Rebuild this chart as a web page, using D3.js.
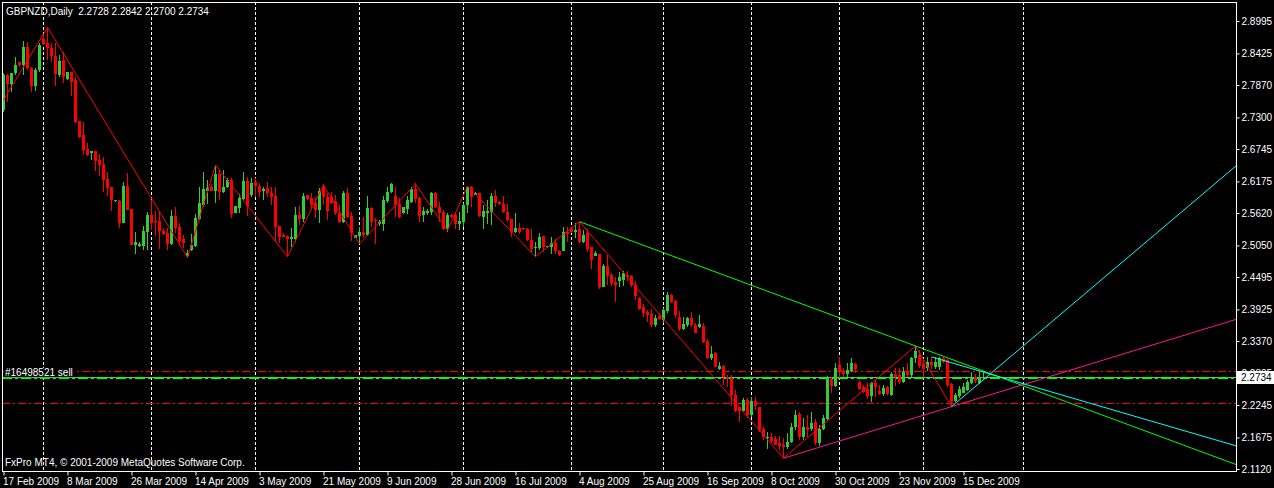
<!DOCTYPE html>
<html>
<head>
<meta charset="utf-8">
<script src="https://cdn.jsdelivr.net/npm/d3@7"></script>
<style>
  html, body { margin: 0; padding: 0; background: #000; }
  svg { display: block; }
  text { font-family: "Liberation Sans", Arial, sans-serif; font-size: 10px; fill: #fff; white-space: pre; }
</style>
</head>
<body>
<svg id="chart" width="1274" height="488"></svg>
<script>
// ---------------- DATA ----------------
const symbolTitle = "GBPNZD,Daily";
const lastOHLC = [2.2728, 2.2842, 2.2700, 2.2734];

const opens = [
2.7431,2.8046,2.7888,2.8076,2.8269,2.8222,2.8544,2.8175,2.7859,2.8134,
2.8679,2.8614,2.8527,2.8386,2.8046,2.8310,2.7976,2.8093,2.7958,2.7237,
2.6991,2.6745,2.6681,2.6710,2.6552,2.6476,2.6218,2.6077,2.5831,2.5831,
2.5450,2.6095,2.5690,2.5058,2.5040,2.5046,2.5292,2.5585,2.5485,2.5480,
2.5304,2.5263,2.5070,2.5567,2.5374,2.5163,2.4870,2.4970,2.5046,2.5515,
2.5761,2.6013,2.6083,2.6007,2.6300,2.5995,2.6083,2.6200,2.5626,2.5714,
2.5866,2.6183,2.5937,2.6159,2.6095,2.6013,2.6066,2.5978,2.5920,2.5392,
2.5234,2.5216,2.5158,2.5158,2.5586,2.5509,2.5937,2.5879,2.5791,2.5674,
2.6084,2.5908,2.5896,2.5838,2.5627,2.5468,2.5966,2.5568,2.5187,2.5216,
2.5293,2.5234,2.5703,2.5498,2.5427,2.5427,2.5838,2.5996,2.5920,2.5779,
2.5615,2.5685,2.5820,2.6037,2.5879,2.5580,2.5615,2.5644,2.5966,2.5720,
2.5638,2.5351,2.5580,2.5580,2.5427,2.5468,2.5761,2.6072,2.5937,2.5966,
2.5556,2.5627,2.5644,2.5920,2.5808,2.5779,2.5644,2.5509,2.5292,2.5351,
2.5351,2.5334,2.5146,2.4999,2.4999,2.5216,2.5017,2.5029,2.5099,2.4953,
2.4960,2.5292,2.5351,2.5292,2.5334,2.5117,2.5263,2.5017,2.4871,2.4900,
2.4326,2.4689,2.4531,2.4413,2.4431,2.4443,2.4531,2.4513,2.4355,2.4120,
2.3962,2.3886,2.3845,2.3652,2.3810,2.3740,2.3904,2.4179,2.4079,2.3798,
2.3581,2.3652,2.3781,2.3652,2.3622,2.3640,2.3376,2.3066,2.3154,2.2878,
2.2931,2.2743,2.2714,2.2421,2.2216,2.2146,2.2333,2.2070,2.2316,2.2204,
2.1818,2.1659,2.1677,2.1642,2.1572,2.1542,2.1501,2.1601,2.1853,2.2087,
2.1677,2.1853,2.1818,2.1941,2.1572,2.1818,2.1994,2.2697,2.2580,2.2949,
2.2849,2.2790,2.2849,2.2966,2.2656,2.2556,2.2521,2.2410,2.2626,2.2497,
2.2439,2.2568,2.2421,2.2790,2.2773,2.2656,2.2849,2.2773,2.3066,2.3124,
2.2966,2.2890,2.3007,2.2908,2.2908,2.3066,2.3037,2.2615,2.2322,2.2404,
2.2462,2.2509,2.2626,2.2732,2.2638,2.2728];

const highs = [
2.8076,2.8060,2.8080,2.8368,2.8281,2.8644,2.8632,2.8193,2.8163,2.8603,
2.8749,2.8885,2.8603,2.8603,2.8398,2.8456,2.8105,2.8105,2.8017,2.7240,
2.7214,2.6845,2.6712,2.6712,2.6652,2.6611,2.6347,2.6080,2.5850,2.5849,
2.6171,2.6318,2.5695,2.5280,2.5116,2.5397,2.5644,2.5849,2.5655,2.5644,
2.5351,2.5351,2.5673,2.5731,2.5439,2.5233,2.4970,2.5245,2.5603,2.6083,
2.6335,2.6200,2.6124,2.6464,2.6376,2.6376,2.6230,2.6230,2.5745,2.5948,
2.6347,2.6259,2.6230,2.6230,2.6142,2.6084,2.6160,2.6084,2.6072,2.5395,
2.5263,2.5234,2.5351,2.5720,2.5744,2.5978,2.5940,2.5966,2.5908,2.6054,
2.6125,2.5978,2.5996,2.5937,2.5761,2.6013,2.6054,2.5644,2.5236,2.5369,
2.5556,2.5920,2.5720,2.5539,2.5498,2.5920,2.6084,2.6154,2.6084,2.5879,
2.5732,2.5920,2.6084,2.6142,2.5908,2.5732,2.5685,2.5996,2.5996,2.5820,
2.5674,2.5627,2.5597,2.5644,2.5644,2.5791,2.6095,2.6095,2.5996,2.5978,
2.5761,2.5849,2.5966,2.6025,2.5838,2.5920,2.5779,2.5509,2.5627,2.5451,
2.5351,2.5351,2.5334,2.5117,2.5263,2.5216,2.5041,2.5205,2.5158,2.4970,
2.5369,2.5369,2.5380,2.5439,2.5468,2.5322,2.5334,2.5017,2.4953,2.4900,
2.4724,2.4882,2.4560,2.4501,2.4589,2.4601,2.4601,2.4531,2.4431,2.4138,
2.4021,2.3915,2.3933,2.3827,2.3857,2.3945,2.4238,2.4191,2.4091,2.3904,
2.3786,2.3798,2.3886,2.3693,2.3827,2.3681,2.3400,2.3283,2.3183,2.3007,
2.2948,2.2773,2.2773,2.2509,2.2216,2.2362,2.2362,2.2392,2.2392,2.2210,
2.1865,2.1777,2.1747,2.1701,2.1701,2.1659,2.1747,2.1923,2.2158,2.2128,
2.2011,2.2070,2.2128,2.1994,2.1894,2.2070,2.2755,2.2732,2.2978,2.3083,
2.2890,2.2978,2.3066,2.2978,2.2685,2.2597,2.2626,2.2656,2.2685,2.2597,
2.2597,2.2580,2.2831,2.2890,2.2890,2.2919,2.2978,2.3083,2.3283,2.3212,
2.3048,2.3083,2.3095,2.3095,2.3095,2.3083,2.3048,2.2626,2.2451,2.2580,
2.2626,2.2685,2.2831,2.2790,2.2831,2.2842];

const lows = [
2.7402,2.7577,2.7753,2.8046,2.8193,2.8046,2.8134,2.7753,2.7765,2.8093,
2.8574,2.8310,2.8281,2.7859,2.8005,2.7911,2.7958,2.7677,2.7200,2.6933,
2.6640,2.6630,2.6552,2.6359,2.6277,2.5995,2.5925,2.5655,2.5808,2.5351,
2.5440,2.5670,2.5050,2.4899,2.5028,2.4970,2.4970,2.5321,2.5222,2.4981,
2.5233,2.4964,2.5058,2.5263,2.5058,2.4999,2.4823,2.4952,2.5028,2.5497,
2.5732,2.5778,2.6007,2.5790,2.5849,2.5966,2.6054,2.5526,2.5624,2.5626,
2.5849,2.5567,2.5907,2.5907,2.5907,2.5849,2.5896,2.5761,2.5117,2.5088,
2.5190,2.4853,2.5029,2.5117,2.5410,2.5468,2.5849,2.5685,2.5527,2.5451,
2.5761,2.5498,2.5779,2.5586,2.5451,2.5451,2.5527,2.5134,2.5176,2.5076,
2.5193,2.5216,2.5380,2.5076,2.5392,2.5310,2.5791,2.5978,2.5556,2.5539,
2.5603,2.5603,2.5802,2.5791,2.5468,2.5468,2.5586,2.5586,2.5703,2.5468,
2.5322,2.5293,2.5539,2.5333,2.5322,2.5380,2.5627,2.5732,2.5937,2.5545,
2.5333,2.5427,2.5410,2.5720,2.5761,2.5615,2.5468,2.5193,2.5275,2.5251,
2.5322,2.5134,2.4941,2.4853,2.4970,2.4941,2.4999,2.4900,2.4900,2.4865,
2.4950,2.5117,2.5263,2.5175,2.5087,2.5087,2.4941,2.4630,2.4871,2.4279,
2.4314,2.4355,2.4337,2.4062,2.4326,2.4343,2.4431,2.4326,2.4091,2.3915,
2.3798,2.3710,2.3611,2.3622,2.3740,2.3681,2.3857,2.4033,2.3769,2.3552,
2.3564,2.3622,2.3622,2.3505,2.3593,2.3341,2.3048,2.3036,2.2907,2.2861,
2.2597,2.2568,2.2228,2.2128,2.1952,2.2128,2.2011,2.2029,2.2158,2.1777,
2.1630,2.1466,2.1583,2.1540,2.1454,2.1308,2.1466,2.1572,2.1806,2.1630,
2.1630,2.1689,2.1794,2.1542,2.1525,2.1806,2.1970,2.2451,2.2568,2.2714,
2.2744,2.2744,2.2831,2.2802,2.2509,2.2451,2.2345,2.2304,2.2392,2.2421,
2.2404,2.2421,2.2404,2.2580,2.2615,2.2626,2.2744,2.2744,2.2978,2.2890,
2.2744,2.2849,2.2873,2.2873,2.2861,2.2978,2.2568,2.2216,2.2304,2.2363,
2.2451,2.2497,2.2615,2.2638,2.2615,2.2700];

const closes = [
2.8046,2.7888,2.8076,2.8222,2.8222,2.8544,2.8163,2.7859,2.8134,2.8574,
2.8597,2.8515,2.8386,2.8064,2.8292,2.8017,2.8093,2.7929,2.7214,2.6962,
2.6728,2.6640,2.6710,2.6534,2.6464,2.6200,2.6054,2.5843,2.5849,2.5450,
2.6095,2.5673,2.5058,2.5105,2.5070,2.5304,2.5585,2.5450,2.5468,2.5304,
2.5257,2.5070,2.5567,2.5351,2.5128,2.5099,2.4911,2.5058,2.5538,2.5790,
2.6042,2.6054,2.6013,2.6300,2.5983,2.6077,2.6200,2.5603,2.5743,2.5890,
2.6183,2.5749,2.6142,2.6101,2.5995,2.6043,2.5978,2.5908,2.5369,2.5193,
2.5193,2.5158,2.5193,2.5586,2.5509,2.5920,2.5861,2.5761,2.5674,2.6013,
2.5908,2.5662,2.5802,2.5615,2.5468,2.5966,2.5556,2.5263,2.5234,2.5293,
2.5234,2.5703,2.5468,2.5486,2.5463,2.5849,2.5996,2.6130,2.5761,2.5545,
2.5720,2.5849,2.6037,2.5861,2.5568,2.5656,2.5662,2.5978,2.5720,2.5615,
2.5333,2.5580,2.5556,2.5427,2.5486,2.5761,2.6072,2.5896,2.5978,2.5568,
2.5656,2.5662,2.5920,2.5791,2.5779,2.5632,2.5498,2.5292,2.5351,2.5292,
2.5334,2.5146,2.4982,2.5029,2.5205,2.5017,2.5041,2.5099,2.4953,2.4882,
2.5292,2.5251,2.5292,2.5322,2.5117,2.5234,2.4982,2.4794,2.4912,2.4326,
2.4689,2.4513,2.4384,2.4355,2.4490,2.4560,2.4501,2.4355,2.4162,2.3927,
2.3869,2.3827,2.3652,2.3769,2.3751,2.3915,2.4179,2.4062,2.3827,2.3581,
2.3669,2.3769,2.3652,2.3517,2.3663,2.3359,2.3066,2.3142,2.2919,2.2931,
2.2732,2.2697,2.2421,2.2146,2.2146,2.2333,2.2069,2.2316,2.2228,2.1806,
2.1677,2.1689,2.1618,2.1542,2.1525,2.1501,2.1601,2.1853,2.2070,2.1689,
2.1853,2.1806,2.1935,2.1572,2.1818,2.2011,2.2714,2.2580,2.2890,2.2831,
2.2790,2.2861,2.2978,2.2873,2.2521,2.2480,2.2410,2.2626,2.2568,2.2439,
2.2538,2.2439,2.2790,2.2744,2.2656,2.2831,2.2773,2.3066,2.3201,2.2931,
2.2873,2.3007,2.2949,2.3007,2.3066,2.3007,2.2597,2.2304,2.2421,2.2521,
2.2556,2.2656,2.2744,2.2673,2.2744,2.2734];

// date labels on the time axis: [bar index, label]
const dateBars   = [0, 16, 32, 48, 64, 80, 96, 112, 128, 144, 160, 176, 192, 208, 224, 240];
const dateLabels = ["17 Feb 2009","8 Mar 2009","26 Mar 2009","14 Apr 2009","3 May 2009","21 May 2009",
                    "9 Jun 2009","28 Jun 2009","16 Jul 2009","4 Aug 2009","25 Aug 2009","16 Sep 2009",
                    "8 Oct 2009","30 Oct 2009","23 Nov 2009","15 Dec 2009"];
// month separators (vertical grid), bar index
const gridBars = [10, 37, 63, 89, 115, 142, 165, 187, 209, 230, 255];
// price axis tick labels
const priceTicks = [2.8995, 2.8425, 2.7870, 2.7300, 2.6745, 2.6175, 2.5620, 2.5050,
                    2.4495, 2.3925, 2.3370, 2.2805, 2.2245, 2.1675, 2.1120];
// ZigZag turning points [bar, price]
const zigzag = [[0,2.7607],[11,2.8885],[46,2.4835],[53,2.6464],[71,2.4853],[80,2.6110],
                [89,2.5076],[103,2.6130],[111,2.5310],[116,2.6095],[133,2.4853],[144,2.5468],
                [195,2.1310],[228,2.3283],[237,2.2216]];
// trend lines (rays): two anchors each [bar, price]
const trendGreen   = [[144,2.5468],[228,2.3283]];
const trendCyanDn  = [[232,2.3090],[249,2.2741]];
const trendPink    = [[195,2.1310],[237,2.2216]];
const trendCyanUp  = [[237,2.2216],[247,2.2811]];
// horizontal levels
const levelTP = 2.2844, levelSL = 2.2277, levelOrder = 2.2718, bidPrice = 2.2734;
const orderLabel = "#16498521 sell";
const copyright = "FxPro MT4, \u00A9 2001-2009 MetaQuotes Software Corp.";

// ---------------- DRAW ----------------
const W = 1274, H = 488;
const plot = {left: 2, top: 2, right: 1236, bottom: 471};
const svg = d3.select("#chart");
svg.append("rect").attr("width", W).attr("height", H).attr("fill", "#000");

const x = d3.scaleLinear().domain([0, 1]).range([3.5, 7.5]);
const y = d3.scaleLinear().domain([2.1120, 2.8995]).range([469, 21]);

svg.append("clipPath").attr("id", "clip").append("rect")
  .attr("x", plot.left + 1).attr("y", plot.top + 1)
  .attr("width", plot.right - plot.left - 1).attr("height", plot.bottom - plot.top - 1);

const g = svg.append("g").attr("clip-path", "url(#clip)");

// vertical grid
g.selectAll("line.grid").data(gridBars).join("line")
  .attr("x1", d => Math.round(x(d)) - 0.5).attr("x2", d => Math.round(x(d)) - 0.5)
  .attr("y1", plot.top).attr("y2", plot.bottom)
  .attr("stroke", "#fff").attr("stroke-width", 1).attr("stroke-dasharray", "3,2")
  .attr("shape-rendering", "crispEdges");

// horizontal order levels
const levelLine = (p, color, width, dash) => g.append("line")
  .attr("x1", plot.left).attr("x2", plot.right)
  .attr("y1", Math.round(y(p)) + (width % 2 ? 0.5 : 0)).attr("y2", Math.round(y(p)) + (width % 2 ? 0.5 : 0))
  .attr("stroke", color).attr("stroke-width", width).attr("stroke-dasharray", dash)
  .attr("shape-rendering", "crispEdges");
levelLine(levelTP, "#ff0000", 1, "8,3,2,3");
levelLine(levelSL, "#ff0000", 1, "8,3,2,3");
levelLine(bidPrice, "#a0a0a4", 1, null);
levelLine(levelOrder, "#00ff00", 2, "10,3,3,3");

// candles
const n = closes.length;
const idx = d3.range(n);
const bull = "#32cd32", bear = "#ff0000";
const colorOf = i => closes[i] >= opens[i] ? bull : bear;
g.selectAll("line.wick").data(idx).join("line")
  .attr("x1", i => x(i)).attr("x2", i => x(i))
  .attr("y1", i => y(highs[i])).attr("y2", i => y(lows[i]))
  .attr("stroke", colorOf).attr("stroke-width", 1).attr("shape-rendering", "crispEdges");
g.selectAll("rect.body").data(idx).join("rect")
  .attr("x", i => x(i) - 1.5).attr("width", 3)
  .attr("y", i => Math.round(y(Math.max(opens[i], closes[i]))))
  .attr("height", i => Math.max(1, Math.round(y(Math.min(opens[i], closes[i]))) - Math.round(y(Math.max(opens[i], closes[i])))))
  .attr("fill", colorOf).attr("shape-rendering", "crispEdges");

// zigzag
const line = d3.line().x(d => x(d[0])).y(d => y(d[1]));
g.append("path").datum(zigzag).attr("d", line)
  .attr("fill", "none").attr("stroke", "#ff0000").attr("stroke-width", 1);

// trend rays extended to right edge
const endBar = x.invert(plot.right);
function ray(anchors, color) {
  const [a, b] = anchors;
  const slope = (b[1] - a[1]) / (b[0] - a[0]);
  const pts = [a, [endBar, a[1] + slope * (endBar - a[0])]];
  g.append("path").datum(pts).attr("d", line)
    .attr("fill", "none").attr("stroke", color).attr("stroke-width", 1);
}
ray(trendGreen, "#00ff00");
ray(trendPink, "#ff1493");
ray(trendCyanDn, "#00ffff");
ray(trendCyanUp, "#00ffff");

// order label with background
const ol = svg.append("g");
const olText = ol.append("text").attr("x", 5).attr("y", y(levelOrder) - 2).text(orderLabel);
const bb = olText.node().getBBox();
ol.insert("rect", "text").attr("x", bb.x - 1).attr("y", bb.y + 1).attr("width", bb.width + 2).attr("height", bb.height - 2).attr("fill", "#000");

// frame
svg.append("rect").attr("x", plot.left + 0.5).attr("y", plot.top + 0.5)
  .attr("width", plot.right - plot.left).attr("height", plot.bottom - plot.top)
  .attr("fill", "none").attr("stroke", "#fff").attr("stroke-width", 1).attr("shape-rendering", "crispEdges");

// price axis
const yAxis = d3.axisRight(y).tickValues(priceTicks).tickFormat(d3.format(".4f")).tickSize(3).tickPadding(2);
const ya = svg.append("g").attr("transform", `translate(${plot.right + 0.5},0)`).call(yAxis);
ya.select(".domain").remove();
ya.selectAll("line").attr("stroke", "#fff");
ya.selectAll("text").attr("fill", "#fff").attr("font-family", "Liberation Sans, Arial, sans-serif").attr("font-size", 10);

// bid price box (covers the tick label behind it, as in the terminal)
const boxY = y(bidPrice);
svg.append("rect").attr("x", plot.right + 1).attr("y", Math.round(boxY) - 6).attr("width", 37).attr("height", 13).attr("fill", "#fff");
svg.append("text").attr("x", plot.right + 5).attr("y", Math.round(boxY) + 4).style("fill", "#000").text(d3.format(".4f")(bidPrice));

// time axis
const xAxis = d3.axisBottom(x).tickValues(dateBars).tickFormat((d, i) => dateLabels[i]).tickSize(4).tickPadding(2);
const xa = svg.append("g").attr("transform", `translate(0,${plot.bottom + 0.5})`).call(xAxis);
xa.select(".domain").remove();
xa.selectAll("line").attr("stroke", "#fff");
xa.selectAll("text").attr("fill", "#fff").attr("text-anchor", "start").attr("dx", "-1")
  .attr("font-family", "Liberation Sans, Arial, sans-serif").attr("font-size", 10);

// title and copyright
svg.append("text").attr("x", 6).attr("y", 15).attr("font-size", 10.5)
  .text(symbolTitle + "  " + lastOHLC.map(d3.format(".4f")).join(" "));
svg.append("text").attr("x", 5).attr("y", 466).text(copyright);
</script>
</body>
</html>
